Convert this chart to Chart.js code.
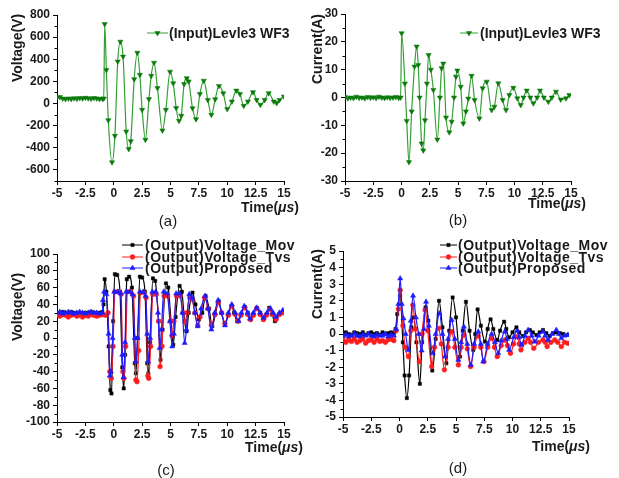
<!DOCTYPE html>
<html><head><meta charset="utf-8">
<script src="https://cdn.jsdelivr.net/npm/chart.js@4/dist/chart.umd.min.js"></script>
<style>
html,body{margin:0;padding:0;background:#fff;}
#wrap{position:relative;width:619px;height:478px;overflow:hidden;font-family:"Liberation Sans",Arial,sans-serif;color:#1a1a1a;}
canvas{position:absolute;}
.t{position:absolute;white-space:nowrap;font-weight:bold;font-size:14px;line-height:16px;transform:translateY(-50%);}
.ls{letter-spacing:0.5px;}
.yt{position:absolute;white-space:nowrap;font-weight:bold;font-size:14px;line-height:16px;transform:translate(-50%,-50%) rotate(-90deg);}
.cap{position:absolute;font-size:15px;line-height:16px;transform:translate(-50%,-50%);}
</style></head>
<body>
<div id="wrap">
<canvas id="ca" width="310" height="230" style="left:0;top:0;width:310px;height:230px"></canvas>
<canvas id="cb" width="309" height="230" style="left:310px;top:0;width:309px;height:230px"></canvas>
<canvas id="cc" width="310" height="248" style="left:0;top:230px;width:310px;height:248px"></canvas>
<canvas id="cd" width="309" height="248" style="left:310px;top:230px;width:309px;height:248px"></canvas>

<div class="yt" style="left:17px;top:48px">Voltage(V)</div>
<div class="yt" style="left:317px;top:49px">Current(A)</div>
<div class="yt" style="left:17px;top:307px">Voltage(V)</div>
<div class="yt" style="left:317px;top:284px">Current(A)</div>

<div class="t" style="left:241px;top:207px">Time(<i>μs</i>)</div>
<div class="t" style="left:528px;top:203px">Time(<i>μs</i>)</div>
<div class="t" style="left:245px;top:447px">Time(<i>μs</i>)</div>
<div class="t" style="left:532px;top:446px">Time(<i>μs</i>)</div>

<div class="cap" style="left:168px;top:221px">(a)</div>
<div class="cap" style="left:458px;top:220px">(b)</div>
<div class="cap" style="left:166px;top:470px">(c)</div>
<div class="cap" style="left:458px;top:468px">(d)</div>

<div class="t" style="left:169px;top:33px">(Input)Levle3 WF3</div>
<div class="t" style="left:480px;top:33px">(Input)Levle3 WF3</div>
<div class="t ls" style="left:145px;top:245px">(Output)Voltage_Mov</div>
<div class="t ls" style="left:145px;top:257px">(Output)Voltage_Tvs</div>
<div class="t ls" style="left:145px;top:268px">(Output)Proposed</div>
<div class="t ls" style="left:458px;top:245px">(Output)Voltage_Mov</div>
<div class="t ls" style="left:458px;top:257px">(Output)Voltage_Tvs</div>
<div class="t ls" style="left:458px;top:268px">(Output)Proposed</div>
</div>
<script>
// ---------- tick values / labels ----------
const xTickVals = [-5,-2.5,0,2.5,5,7.5,10,12.5,15];
const xTickLabels = ['-5','-2.5','0','2.5','5','7.5','10','12.5','15'];
const aYTicks = [-600,-400,-200,0,200,400,600,800];
const aYMinor = [-700,-500,-300,-100,100,300,500,700];
const bYTicks = [-30,-20,-10,0,10,20,30];
const bYMinor = [-25,-15,-5,5,15,25];
const cYTicks = [-100,-80,-60,-40,-20,0,20,40,60,80,100];
const cYMinor = [-90,-70,-50,-30,-10,10,30,50,70,90];
const dYTicks = [-5,-4,-3,-2,-1,0,1,2,3,4,5];
const dYMinor = [-4.5,-3.5,-2.5,-1.5,-0.5,0.5,1.5,2.5,3.5,4.5];

// ---------- (a) input voltage ----------
const aTime = [-5,-4.75,-4.5,-4.25,-4,-3.75,-3.5,-3.25,-3,-2.75,-2.5,-2.25,-2,-1.75,-1.5,-1.25,-1,
  -0.88,-0.8,-0.65,-0.48,-0.15,0.1,0.35,0.58,0.82,1.1,1.32,1.5,1.8,2.08,2.3,2.5,2.79,3.1,3.3,3.55,3.85,
  4.29,4.59,4.96,5.24,5.5,5.75,5.95,6.2,6.43,6.6,6.94,7.25,7.59,7.93,8.29,8.6,8.94,9.27,9.65,10,10.41,10.8,
  11.12,11.45,11.82,12.27,12.59,12.92,13.3,13.65,14.1,14.36,14.6,15];
const aVolt = [55,58,45,40,46,42,48,44,50,46,52,48,44,50,46,42,44,
  45,718,304,-150,-531,-292,380,559,424,-253,-411,-340,220,459,260,-57,-327,40,250,369,140,
  -243,-57,288,183,-40,-156,-110,177,229,200,-42,-141,87,207,33,-102,39,159,93,-50,18,117,
  87,-21,18,103,33,-12,33,94,18,4,33,63];

// ---------- (b) input current ----------
const bTime = [-5,-4.75,-4.5,-4.25,-4,-3.75,-3.5,-3.25,-3,-2.75,-2.5,-2.25,-2,-1.75,-1.5,-1.25,-1,-0.75,-0.5,-0.25,
  -0.08,0.01,0.3,0.46,0.66,0.9,1.15,1.34,1.48,1.6,1.78,1.93,2.08,2.25,2.4,2.6,2.82,3.17,3.4,3.55,3.7,3.94,
  4.23,4.44,4.65,4.82,4.94,5.24,5.47,5.7,5.91,6.2,6.47,6.89,7.18,7.54,7.98,8.22,8.57,8.95,9.25,9.54,9.9,
  10.25,10.55,10.8,11.08,11.4,11.67,12.0,12.26,12.6,13.0,13.3,13.67,14.09,14.56,14.85];
const bCurr = [0.2,-0.3,0,-0.2,0.3,-0.1,0,-0.3,0.2,-0.1,0.1,-0.2,0.3,0,-0.2,0.1,-0.1,0,0.2,-0.1,
  0,23.1,5,-8.4,-23.2,-5,11.1,18.3,11.7,0,-16.5,-19,-8.2,5,15.3,10,2.7,-15.1,0,10.5,12.2,-7.2,
  -12.5,-8.7,0,7.5,9.7,3.9,-9.3,-5,-0.4,7.8,-0.9,-7.5,3.3,5.7,-4.5,-3.3,5.1,-0.9,-4.5,0.9,3.5,
  -0.3,-2.7,0,2.5,0,-2.1,0,2.5,0,-1.5,0,2.1,-0.7,-0.3,0.9];

// ---------- (c) output voltage ----------
const cMovT = [-5,-4.75,-4.5,-4.25,-4,-3.75,-3.5,-3.25,-3,-2.75,-2.5,-2.25,-2,-1.75,-1.5,-1.25,-1,
  -0.9,-0.8,-0.65,-0.45,-0.3,-0.2,-0.05,0.1,0.3,0.55,0.75,0.88,1.0,1.15,1.35,1.6,1.85,1.95,2.1,2.3,2.5,2.75,
  2.95,3.05,3.2,3.45,3.65,3.95,4.12,4.3,4.6,4.8,5.05,5.24,5.45,5.8,6.0,6.25,6.41,6.6,6.94,7.2,7.5,7.8,
  8.09,8.4,8.68,8.95,9.24,9.5,9.79,10.1,10.38,10.6,10.88,11.2,11.56,11.8,12.06,12.3,12.59,12.9,13.18,
  13.45,13.7,13.95,14.2,14.6,14.94];
const cMovV = [30,29,31,30,28,31,30,29,30,28,30,29,31,30,29,30,31,
  40,70,55,-10,-62,-66,20,76,75,55,-35,-60,-20,70,73,60,-30,-42,0,73,72,55,
  -30,-42,-5,71,68,20,-26,10,65,60,20,-8,25,62,55,20,8,30,54,40,22,30,
  50,35,14,28,44,30,18,28,38,30,20,28,37,30,22,28,36,30,22,
  28,36,28,20,28,32];
const cTvsT = [-5,-4.75,-4.5,-4.25,-4,-3.75,-3.5,-3.25,-3,-2.75,-2.5,-2.25,-2,-1.75,-1.5,-1.25,-1,
  -0.75,-0.5,-0.35,-0.22,-0.06,0.1,0.4,0.65,0.8,0.9,1.05,1.2,1.5,1.75,1.95,2.05,2.2,2.35,2.65,2.85,
  3.0,3.08,3.25,3.45,3.75,3.95,4.08,4.25,4.45,4.75,5.0,5.12,5.3,5.55,5.85,6.1,6.3,6.45,6.7,6.9,
  7.15,7.4,7.6,8.0,8.3,8.6,8.9,9.2,9.5,9.8,10.1,10.4,10.7,10.95,11.2,11.55,11.8,12.05,12.3,12.6,
  12.9,13.2,13.45,13.75,14.0,14.3,14.6,14.95];
const cTvsV = [27,26,28,27,25,27,28,26,27,25,27,26,28,27,26,27,28,
  27,30,-40,-48,-10,55,55,52,-40,-48,-10,55,55,50,-50,-52,-15,54,54,48,
  -45,-48,-10,52,52,20,-34,-10,50,50,20,3,20,50,50,30,19,30,48,46,
  30,15,25,48,35,15,28,42,30,17,27,38,28,20,27,36,28,22,27,35,
  28,22,27,34,28,22,28,30];
const cPropT = [-5,-4.75,-4.5,-4.25,-4,-3.75,-3.5,-3.25,-3,-2.75,-2.5,-2.25,-2,-1.75,-1.5,-1.25,-1,
  -0.95,-0.85,-0.65,-0.45,-0.35,-0.25,-0.1,0.05,0.35,0.6,0.75,0.85,1.0,1.1,1.4,1.65,1.85,1.95,2.1,
  2.3,2.6,2.8,2.95,3.03,3.2,3.4,3.7,3.9,4.05,4.2,4.4,4.7,4.95,5.15,5.3,5.5,5.8,6.05,6.25,6.4,
  6.65,6.9,7.15,7.4,7.7,8.05,8.3,8.6,8.9,9.2,9.5,9.8,10.1,10.4,10.7,11.0,11.25,11.5,11.8,12.0,
  12.3,12.6,12.9,13.2,13.5,13.8,14.05,14.3,14.6,14.9];
const cPropV = [30,31,29,30,31,30,29,30,31,30,29,30,31,30,30,29,30,
  45,55,52,5,-45,-40,0,55,55,53,-20,-47,-5,55,55,52,0,-28,0,
  55,55,50,5,-28,0,55,55,30,-12,10,55,53,20,-10,5,53,53,30,-6,10,
  52,48,30,14,35,50,35,10,30,45,30,15,30,40,30,20,30,38,30,23,
  30,36,30,24,30,35,30,25,30,33];

// ---------- (d) output current ----------
const dMovT = [-5,-4.75,-4.5,-4.25,-4,-3.75,-3.5,-3.25,-3,-2.75,-2.5,-2.25,-2,-1.75,-1.5,-1.25,-1,-0.75,-0.5,
  -0.35,-0.2,0.05,0.3,0.45,0.65,0.85,1.05,1.25,1.5,1.8,2.0,2.3,2.55,2.9,3.2,3.5,3.8,4.15,4.4,4.7,5.0,
  5.35,5.6,5.88,6.2,6.53,6.7,6.91,7.2,7.56,7.8,8.06,8.3,8.65,8.9,9.26,9.45,9.7,10.0,10.35,10.6,10.94,
  11.2,11.53,11.8,12.12,12.4,12.7,13.0,13.3,13.6,13.88,14.2,14.5,14.9];
const dMovV = [0.05,0.1,0,-0.05,0.1,0.05,0,0.1,-0.05,0.05,0.1,0,0.05,-0.05,0.1,0,0.05,0.1,0.05,
  0.3,1.2,2.3,-0.5,-2.5,-3.86,-2.5,0.4,1.0,-0.5,-3.0,-0.5,1.6,0.8,-2.2,-0.3,2.0,0.4,-1.76,0.2,2.2,1.0,
  -1.36,0.2,1.94,0.2,-0.96,0,1.48,0.5,-0.46,0.3,0.88,0.3,-0.36,0.2,0.74,0.3,-0.2,0.1,0.4,0.1,-0.12,
  0.1,0.24,0.1,-0.06,0.1,0.24,0.05,-0.12,0.05,0.1,0.05,0,-0.05];
const dTvsT = [-5,-4.75,-4.5,-4.25,-4,-3.75,-3.5,-3.25,-3,-2.75,-2.5,-2.25,-2,-1.75,-1.5,-1.25,-1,-0.75,-0.5,
  -0.3,-0.1,0.06,0.3,0.5,0.79,1.0,1.18,1.4,1.76,2.0,2.26,2.5,2.85,3.1,3.44,3.7,3.97,4.3,4.62,4.9,5.21,
  5.45,5.7,6.0,6.29,6.6,6.97,7.2,7.47,7.8,8.15,8.4,8.65,9.0,9.32,9.55,9.82,10.1,10.41,10.6,10.75,
  11.1,11.38,11.6,11.88,12.3,12.7,12.9,13.06,13.4,13.74,14.0,14.32,14.6,14.9];
const dTvsV = [-0.3,-0.5,-0.35,-0.45,-0.3,-0.5,-0.4,-0.3,-0.55,-0.4,-0.35,-0.5,-0.3,-0.45,-0.4,-0.5,-0.35,-0.3,-0.4,
  0.2,1.5,2.64,0.5,-0.8,-1.36,0.2,1.74,0.3,-1.66,0,1.44,0.2,-1.96,-0.8,0.34,-0.6,-2.16,-0.8,0.14,-0.8,-1.86,
  -0.8,-0.06,-0.9,-1.96,-0.8,-0.12,-0.8,-1.66,-0.8,-0.26,-0.8,-1.36,-0.7,-0.36,-0.7,-1.16,-0.6,-0.16,-0.6,-0.96,
  -0.5,-0.26,-0.5,-0.86,-0.5,-0.36,-0.5,-0.76,-0.5,-0.36,-0.5,-0.76,-0.5,-0.56];
const dPropT = [-5,-4.75,-4.5,-4.25,-4,-3.75,-3.5,-3.25,-3,-2.75,-2.5,-2.25,-2,-1.75,-1.5,-1.25,-1,-0.75,-0.5,
  -0.3,-0.1,0.06,0.2,0.35,0.55,0.78,1.0,1.2,1.45,1.7,1.96,2.15,2.35,2.6,2.94,3.2,3.53,3.8,4.03,4.3,4.62,
  4.9,5.21,5.45,5.7,6.0,6.32,6.6,6.97,7.2,7.41,7.8,8.15,8.45,8.74,9.0,9.32,9.5,9.7,10.1,10.41,10.6,10.79,
  11.1,11.38,11.7,11.97,12.3,12.7,12.9,13.15,13.5,13.88,14.1,14.32,14.6,14.9];
const dPropV = [-0.1,-0.05,-0.15,-0.1,0,-0.1,-0.15,-0.05,-0.1,0,-0.1,-0.15,-0.05,-0.1,-0.1,0,-0.15,-0.05,-0.1,
  0.3,1.8,3.34,1.8,0.94,0,-0.96,0.8,2.3,1.0,0,-1.0,0.3,1.94,0.5,-1.16,0,1.24,0,-1.36,-0.3,0.84,
  -0.3,-1.56,-0.5,0.44,-0.6,-1.86,-0.6,0.14,-0.6,-1.66,-0.6,0,-0.5,-1.16,-0.4,0.14,-0.3,-0.96,-0.2,0.2,-0.2,-0.66,
  -0.1,0.24,-0.1,-0.46,-0.1,0.14,-0.1,-0.36,0,0.24,0,-0.26,-0.1,-0.06];

// ---------- helpers ----------
const pts = (t, v) => t.map((x, i) => ({x: x, y: v[i]}));
const TXT = '#1a1a1a';
const GREEN_LINE = '#34a034', GREEN_PT = '#0a7a0a';
const BLACK = '#000000', RED = '#ff1c1c', BLUE = '#1c1cff';

function ds(t, v, color, ptColor, style, radius, rot, order) {
  return {
    data: pts(t, v), borderColor: color, borderWidth: 1.2, fill: false,
    backgroundColor: ptColor, pointBackgroundColor: ptColor, pointBorderColor: ptColor,
    pointBorderWidth: 0.5, pointStyle: style, pointRadius: radius, pointRotation: rot,
    cubicInterpolationMode: 'monotone', order: order
  };
}

function makeChart(id, w, h, area, yMin, yMax, yTicks, yMinor, datasets, legend) {
  const minorPlugin = {
    id: 'extras',
    afterDraw(chart) {
      const ctx = chart.ctx, ys = chart.scales.y, ca = chart.chartArea;
      ctx.save();
      ctx.strokeStyle = '#000'; ctx.lineWidth = 1;
      yMinor.forEach(v => {
        const py = Math.round(ys.getPixelForValue(v)) + 0.5;
        ctx.beginPath(); ctx.moveTo(ca.left - 2.5, py); ctx.lineTo(ca.left, py); ctx.stroke();
      });
      legend.forEach(e => {
        ctx.strokeStyle = e.color; ctx.lineWidth = 1;
        ctx.beginPath(); ctx.moveTo(e.x1, e.y); ctx.lineTo(e.x2, e.y); ctx.stroke();
        ctx.fillStyle = e.pt; ctx.strokeStyle = e.pt; ctx.lineWidth = 0.5;
        Chart.helpers.drawPoint(ctx, {pointStyle: e.style, radius: e.r, rotation: e.rot, borderWidth: 0.5}, (e.x1 + e.x2) / 2, e.y);
      });
      ctx.restore();
    }
  };
  const font = {family: '"Liberation Sans", Arial, sans-serif', size: 12, weight: 'bold'};
  return new Chart(document.getElementById(id), {
    type: 'line',
    data: {datasets: datasets},
    options: {
      responsive: false, animation: false, devicePixelRatio: 1,
      layout: {padding: {left: 0, top: area.top, right: w - area.right, bottom: 0}},
      plugins: {legend: {display: false}, tooltip: {enabled: false}},
      elements: {line: {borderJoinStyle: 'round'}},
      scales: {
        x: {
          type: 'linear', min: -5, max: 15,
          afterBuildTicks: s => { s.ticks = xTickVals.map(v => ({value: v})); },
          afterFit: s => { s.height = h - area.bottom; },
          ticks: {callback: (v) => { const i = xTickVals.indexOf(v); return i >= 0 ? xTickLabels[i] : ''; },
                  autoSkip: false, maxRotation: 0, font: font, color: TXT, padding: 1},
          grid: {drawOnChartArea: false, drawTicks: true, tickLength: 4, tickColor: '#000', tickWidth: 1},
          border: {display: true, color: '#000', width: 1}
        },
        y: {
          type: 'linear', min: yMin, max: yMax,
          afterBuildTicks: s => { s.ticks = yTicks.map(v => ({value: v})); },
          afterFit: s => { s.width = area.left; },
          ticks: {callback: (v) => String(v), autoSkip: false, font: font, color: TXT, padding: 3},
          grid: {drawOnChartArea: false, drawTicks: true, tickLength: 4, tickColor: '#000', tickWidth: 1},
          border: {display: true, color: '#000', width: 1}
        }
      }
    },
    plugins: [minorPlugin]
  });
}

makeChart('ca', 310, 230, {left: 57, right: 284, top: 15, bottom: 181}, -700, 800, aYTicks, aYMinor,
  [ds(aTime, aVolt, GREEN_LINE, GREEN_PT, 'triangle', 3, 180, 0)],
  [{x1: 147, x2: 168, y: 33, color: GREEN_LINE, pt: GREEN_PT, style: 'triangle', r: 3, rot: 180}]);

makeChart('cb', 309, 230, {left: 35, right: 261, top: 14, bottom: 181}, -30, 30, bYTicks, bYMinor,
  [ds(bTime, bCurr, GREEN_LINE, GREEN_PT, 'triangle', 3, 180, 0)],
  [{x1: 150, x2: 168, y: 33, color: GREEN_LINE, pt: GREEN_PT, style: 'triangle', r: 3, rot: 180}]);

makeChart('cc', 310, 248, {left: 57, right: 284, top: 24, bottom: 192}, -100, 100, cYTicks, cYMinor,
  [ds(cMovT, cMovV, BLACK, BLACK, 'rect', 2.3, 0, 2),
   ds(cTvsT, cTvsV, RED, RED, 'circle', 2.4, 0, 1),
   ds(cPropT, cPropV, BLUE, BLUE, 'triangle', 3, 0, 0)],
  [{x1: 122, x2: 143, y: 15, color: BLACK, pt: BLACK, style: 'rect', r: 2.3, rot: 0},
   {x1: 122, x2: 143, y: 27, color: RED, pt: RED, style: 'circle', r: 2.4, rot: 0},
   {x1: 122, x2: 143, y: 38, color: BLUE, pt: BLUE, style: 'triangle', r: 3, rot: 0}]);

makeChart('cd', 309, 248, {left: 33, right: 259, top: 21, bottom: 187}, -5, 5, dYTicks, dYMinor,
  [ds(dMovT, dMovV, BLACK, BLACK, 'rect', 2.3, 0, 2),
   ds(dTvsT, dTvsV, RED, RED, 'circle', 2.4, 0, 1),
   ds(dPropT, dPropV, BLUE, BLUE, 'triangle', 3, 0, 0)],
  [{x1: 130, x2: 147, y: 15, color: BLACK, pt: BLACK, style: 'rect', r: 2.3, rot: 0},
   {x1: 130, x2: 147, y: 27, color: RED, pt: RED, style: 'circle', r: 2.4, rot: 0},
   {x1: 130, x2: 147, y: 38, color: BLUE, pt: BLUE, style: 'triangle', r: 3, rot: 0}]);
</script>
</body></html>
